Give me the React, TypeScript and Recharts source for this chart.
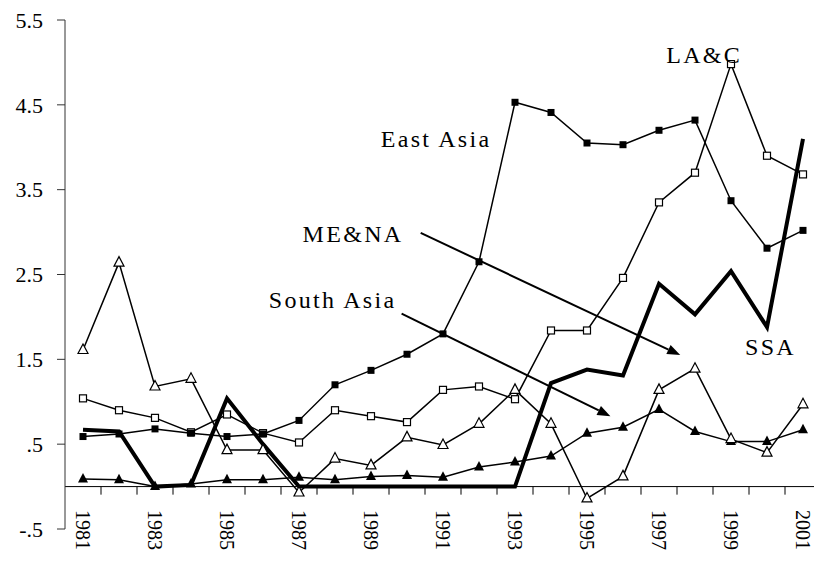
import React from 'react'
import { LineChart, Line, XAxis, YAxis, ReferenceLine, ReferenceDot } from 'recharts'

const years = [1981, 1982, 1983, 1984, 1985, 1986, 1987, 1988, 1989, 1990, 1991, 1992, 1993, 1994, 1995, 1996, 1997, 1998, 1999, 2000, 2001]

const eastAsia = [0.59, 0.62, 0.68, 0.63, 0.59, 0.62, 0.78, 1.2, 1.37, 1.56, 1.8, 2.65, 4.53, 4.41, 4.05, 4.03, 4.2, 4.32, 3.37, 2.81, 3.02]
const laC = [1.04, 0.9, 0.81, 0.64, 0.85, 0.63, 0.52, 0.9, 0.83, 0.76, 1.14, 1.18, 1.03, 1.84, 1.84, 2.46, 3.35, 3.7, 4.98, 3.9, 3.68]
const meNa = [1.61, 2.64, 1.18, 1.27, 0.43, 0.43, -0.07, 0.33, 0.25, 0.58, 0.49, 0.74, 1.14, 0.74, -0.14, 0.12, 1.14, 1.39, 0.56, 0.4, 0.97]
const southAsia = [0.09, 0.08, 0.0, 0.03, 0.08, 0.08, 0.11, 0.08, 0.12, 0.13, 0.11, 0.23, 0.29, 0.36, 0.63, 0.7, 0.91, 0.65, 0.53, 0.53, 0.67]
const ssa = [0.67, 0.65, 0.0, 0.02, 1.04, 0.5, 0.0, 0.0, 0.0, 0.0, 0.0, 0.0, 0.0, 1.22, 1.38, 1.31, 2.39, 2.03, 2.54, 1.88, 4.1]

const yTicks = [-0.5, 0.5, 1.5, 2.5, 3.5, 4.5, 5.5]
const yearLabels = [1981, 1983, 1985, 1987, 1989, 1991, 1993, 1995, 1997, 1999, 2001]
const tickMarks = [1981.5, 1982.5, 1983.5, 1984.5, 1985.5, 1986.5, 1987.5, 1988.5, 1989.5, 1990.5, 1991.5, 1992.5, 1993.5, 1994.5, 1995.5, 1996.5, 1997.5, 1998.5, 1999.5, 2000.5, 2001.5]

// annotation text, anchored at its left baseline
const labels = [
    { text: 'LA&C', x: 1997.2, y: 4.99 },
    { text: 'East Asia', x: 1989.27, y: 4.0 },
    { text: 'ME&NA', x: 1987.1, y: 2.88 },
    { text: 'South Asia', x: 1986.16, y: 2.1 },
    { text: 'SSA', x: 1999.39, y: 1.55 },
]

const arrows = [
    { from: { x: 1990.38, y: 2.99 }, to: { x: 1997.59, y: 1.55 } },
    { from: { x: 1989.85, y: 2.04 }, to: { x: 1995.65, y: 0.83 } },
]

const data = years.map((year, i) => ({
    year,
    eastAsia: eastAsia[i],
    laC: laC[i],
    meNa: meNa[i],
    southAsia: southAsia[i],
    ssa: ssa[i],
}))

const font = '"Times New Roman", "Liberation Serif", Times, "DejaVu Serif", serif'

const FilledSquare = (p: any) => (
    <rect key={p.key} x={p.cx - 3.5} y={p.cy - 3.5} width={7} height={7} fill="#000" />
)
const OpenSquare = (p: any) => (
    <rect key={p.key} x={p.cx - 3.5} y={p.cy - 3.5} width={7} height={7} fill="#fff" stroke="#000" strokeWidth={1.2} />
)
const triPoints = (cx: number, cy: number) => `${cx},${cy - 6} ${cx - 5},${cy + 3.5} ${cx + 5},${cy + 3.5}`
const FilledTriangle = (p: any) => <polygon key={p.key} points={triPoints(p.cx, p.cy)} fill="#000" />
const OpenTriangle = (p: any) => (
    <polygon key={p.key} points={triPoints(p.cx, p.cy)} fill="#fff" stroke="#000" strokeWidth={1.2} />
)

const Arrow = (p: any) => {
    const { x1, y1, x2, y2 } = p
    const a = Math.atan2(y2 - y1, x2 - x1)
    const len = 13
    const half = 5
    const bx = x2 - len * Math.cos(a)
    const by = y2 - len * Math.sin(a)
    const nx = -Math.sin(a) * half
    const ny = Math.cos(a) * half
    return (
        <g>
            <line x1={x1} y1={y1} x2={bx} y2={by} stroke="#000" strokeWidth={2} />
            <polygon points={`${x2},${y2} ${bx + nx},${by + ny} ${bx - nx},${by - ny}`} fill="#000" />
        </g>
    )
}

const YearTick = ({ x, y, payload }: any) => (
    <g transform={`translate(${x},${y}) rotate(90)`}>
        <text x={-19} y={0} dy="0.35em" textAnchor="start" style={{ fontFamily: font, fontSize: 20 }} fill="#000">
            {payload.value}
        </text>
    </g>
)

const fmt = (v: number) => {
    const s = v.toFixed(1)
    return s.replace(/^0\./, '.').replace(/^-0\./, '-.')
}

const App = () => {
    return (
        <div style={{ position: 'fixed', left: 0, top: 0, width: 814, height: 563, overflow: 'hidden', background: '#fff', fontFamily: font }}>
            <LineChart width={830} height={563} data={data} margin={{ top: 20, right: 9, left: 1, bottom: 0 }}>
                <XAxis
                    dataKey="year"
                    type="number"
                    domain={[1980.5, 2001.5]}
                    ticks={yearLabels}
                    axisLine={false}
                    tickLine={false}
                    tickSize={0}
                    tickMargin={0}
                    height={34}
                    interval={0}
                    tick={<YearTick />}
                />
                <YAxis
                    domain={[-0.5, 5.5]}
                    ticks={yTicks}
                    tickFormatter={fmt}
                    width={64}
                    tickSize={8}
                    tickMargin={14}
                    stroke="#333"
                    tick={{ fill: '#000', fontSize: 22, style: { fontFamily: font } }}
                />
                <ReferenceLine y={0} stroke="#000" strokeWidth={1} />
                {tickMarks.map((t) => (
                    <ReferenceLine key={t} segment={[{ x: t, y: 0 }, { x: t, y: -0.095 }]} stroke="#000" strokeWidth={1} ifOverflow="visible" />
                ))}
                <Line dataKey="ssa" type="linear" stroke="#000" strokeWidth={4} dot={false} isAnimationActive={false} />
                <Line dataKey="southAsia" type="linear" stroke="#000" strokeWidth={1.5} dot={FilledTriangle} isAnimationActive={false} />
                <Line dataKey="meNa" type="linear" stroke="#000" strokeWidth={1.5} dot={OpenTriangle} isAnimationActive={false} />
                <Line dataKey="laC" type="linear" stroke="#000" strokeWidth={1.5} dot={OpenSquare} isAnimationActive={false} />
                <Line dataKey="eastAsia" type="linear" stroke="#000" strokeWidth={1.5} dot={FilledSquare} isAnimationActive={false} />
                {arrows.map((a, i) => (
                    <ReferenceLine key={'arr' + i} segment={[a.from, a.to]} shape={Arrow} ifOverflow="visible" />
                ))}
                {labels.map((l) => (
                    <ReferenceDot
                        key={l.text}
                        x={l.x}
                        y={l.y}
                        r={0}
                        ifOverflow="visible"
                        shape={(p: any) => (
                            <text x={p.cx} y={p.cy} style={{ fontFamily: font, fontSize: 24, letterSpacing: 2.3 }} fill="#000">
                                {l.text}
                            </text>
                        )}
                    />
                ))}
            </LineChart>
        </div>
    )
}

export default App
